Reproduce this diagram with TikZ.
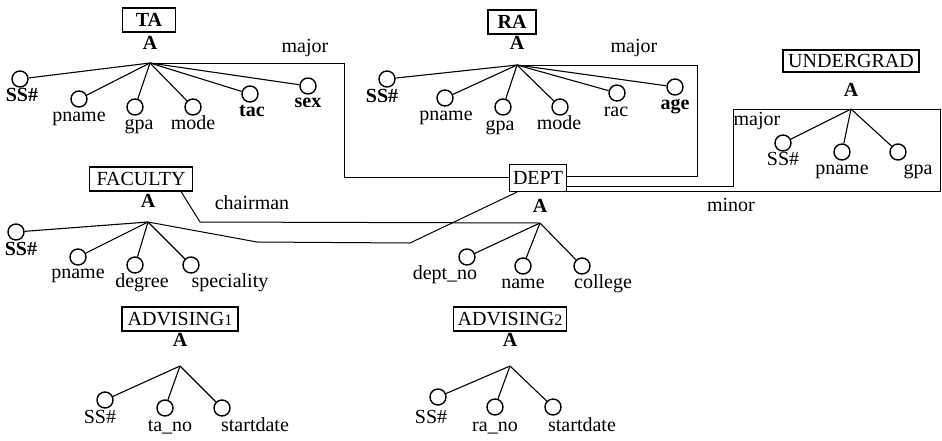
\documentclass[tikz,border=0pt]{standalone}
\usepackage{fontspec}
\setmainfont{Liberation Serif}
\begin{document}
\begin{tikzpicture}[x=1pt,y=-1pt,
  every node/.style={font=\fontsize{20}{22}\selectfont},
  ent/.style={draw, line width=1.1pt, inner sep=1pt, minimum height=24pt},
  att/.style={draw, circle, line width=1.4pt, minimum size=16pt, inner sep=0pt},
  lbl/.style={anchor=mid, inner sep=0pt},
  blbl/.style={anchor=mid, inner sep=0pt, font=\fontsize{20}{22}\selectfont\bfseries},
  apx/.style={anchor=mid, inner sep=0pt, font=\fontsize{20}{22}\selectfont\bfseries},
  edge/.style={line width=1.1pt},
  lnk/.style={line width=1pt}]
\useasboundingbox (0,0) rectangle (942,440);

% ---------------- TA ----------------
\node[ent, minimum width=53pt, font=\fontsize{20}{22}\selectfont\bfseries] (TA) at (149,20) {TA};
\node[apx] (TAa) at (150,47) {A};
\coordinate (TAp) at (150,63);
\node[att] (TA1) at (20,79) {};   \node[blbl] (TAl1) at (22,99) {SS\#};
\node[att] (TA2) at (79,99) {};   \node[lbl] (TAl2) at (79,119) {pname};
\node[att] (TA3) at (135,107) {}; \node[lbl] (TAl3) at (139,127) {gpa};
\node[att] (TA4) at (193,107) {}; \node[lbl] (TAl4) at (193,127) {mode};
\node[att] (TA5) at (250,94) {};  \node[blbl] (TAl5) at (252,114) {tac};
\node[att] (TA6) at (308,86) {};  \node[blbl] (TAl6) at (308,105) {sex};
\foreach \i in {1,...,6} \draw[edge] (TAp) -- (TA\i);
\node[lbl] (TAmaj) at (305,50) {major};

% ---------------- RA ----------------
\node[ent, minimum width=48pt, font=\fontsize{20}{22}\selectfont\bfseries] (RA) at (512,22) {RA};
\node[apx] (RAa) at (517,47) {A};
\coordinate (RAp) at (517,65);
\node[att] (RA1) at (387,79) {};  \node[blbl] (RAl1) at (382,100) {SS\#};
\node[att] (RA2) at (445,98) {};  \node[lbl] (RAl2) at (446,118) {pname};
\node[att] (RA3) at (503,107) {}; \node[lbl] (RAl3) at (500,128) {gpa};
\node[att] (RA4) at (560,107) {}; \node[lbl] (RAl4) at (559,127) {mode};
\node[att] (RA5) at (617,93) {};  \node[lbl] (RAl5) at (616,114) {rac};
\node[att] (RA6) at (675,87) {};  \node[blbl] (RAl6) at (675,107) {age};
\foreach \i in {1,...,6} \draw[edge] (RAp) -- (RA\i);
\node[lbl] (RAmaj) at (634,50) {major};

% ---------------- DEPT ----------------
\node[ent, minimum width=57pt, minimum height=27pt] (DEPT) at (538,178) {DEPT};
\node[apx] (DEa) at (540,210) {A};
\coordinate (DEp) at (540,223);
\node[att] (DE1) at (467,257) {}; \node[lbl] (DEl1) at (445,277) {dept\_no};
\node[att] (DE2) at (523,266) {}; \node[lbl] (DEl2) at (523,286) {name};
\node[att] (DE3) at (582,266) {}; \node[lbl] (DEl3) at (603,286) {college};
\foreach \i in {1,...,3} \draw[edge] (DEp) -- (DE\i);

% ---------------- UNDERGRAD ----------------
\node[ent, minimum width=136pt, minimum height=22pt] (UG) at (851,61) {UNDERGRAD};
\node[apx] (UGa) at (851,94) {A};
\coordinate (UGp) at (851,109);
\node[att] (UG1) at (783,143) {}; \node[lbl] (UGl1) at (783,163) {SS\#};
\node[att] (UG2) at (842,152) {}; \node[lbl] (UGl2) at (842,172) {pname};
\node[att] (UG3) at (898,152) {}; \node[lbl] (UGl3) at (918,172) {gpa};
\foreach \i in {1,...,3} \draw[edge] (UGp) -- (UG\i);
\node[lbl] (UGmaj) at (757,123) {major};
\node[lbl] (UGmin) at (731,209) {minor};

% ---------------- FACULTY ----------------
\node[ent, minimum width=103pt, minimum height=24pt] (FA) at (141,179) {FACULTY};
\node[apx] (FAa) at (148,205) {A};
\coordinate (FAp) at (148,222);
\node[att] (FA1) at (16,232) {};  \node[blbl] (FAl1) at (21,253) {SS\#};
\node[att] (FA2) at (78,257) {};  \node[lbl] (FAl2) at (78,276) {pname};
\node[att] (FA3) at (135,265) {}; \node[lbl] (FAl3) at (142,285) {degree};
\node[att] (FA4) at (191,265) {}; \node[lbl] (FAl4) at (230,285) {speciality};
\foreach \i in {1,...,4} \draw[edge] (FAp) -- (FA\i);
\node[lbl] (FAch) at (252,207) {chairman};

% ---------------- ADVISING1 ----------------
\node[ent, minimum width=116pt] (AD1) at (180,319) {ADVISING{\fontsize{16}{18}\selectfont 1}};
\node[apx] (AD1a) at (180,344) {A};
\coordinate (AD1p) at (180,366);
\node[att] (AD11) at (105,400) {}; \node[lbl] (AD1l1) at (100,421) {SS\#};
\node[att] (AD12) at (165,408) {}; \node[lbl] (AD1l2) at (170,429) {ta\_no};
\node[att] (AD13) at (222,408) {}; \node[lbl] (AD1l3) at (255,429) {startdate};
\foreach \i in {1,...,3} \draw[edge] (AD1p) -- (AD1\i);

% ---------------- ADVISING2 ----------------
\node[ent, minimum width=113pt] (AD2) at (510,319) {ADVISING{\fontsize{16}{18}\selectfont 2}};
\node[apx] (AD2a) at (510,344) {A};
\coordinate (AD2p) at (510,366);
\node[att] (AD21) at (438,397) {}; \node[lbl] (AD2l1) at (431,421) {SS\#};
\node[att] (AD22) at (495,407) {}; \node[lbl] (AD2l2) at (495,429) {ra\_no};
\node[att] (AD23) at (553,407) {}; \node[lbl] (AD2l3) at (582,429) {startdate};
\foreach \i in {1,...,3} \draw[edge] (AD2p) -- (AD2\i);

% ---------------- reference links ----------------
% TA major -> DEPT
\coordinate (c1) at (344,63);
\coordinate (c2) at (344,177);
\draw[lnk] (TAp) -- (c1) -- (c2) -- (c2 -| DEPT.west);
% RA major -> DEPT
\coordinate (c3) at (697,65);
\coordinate (c4) at (697,176);
\draw[lnk] (RAp) -- (c3) -- (c4) -- (c4 -| DEPT.east);
% UNDERGRAD major -> DEPT
\coordinate (c5) at (733,109);
\coordinate (c6) at (733,186);
\draw[lnk] (UGp) -- (c5) -- (c6) -- (c6 -| DEPT.east);
% UNDERGRAD minor -> DEPT
\coordinate (c7) at (940,109);
\coordinate (c8) at (940,191);
\draw[lnk] (UGp) -- (c7) -- (c8) -- (c8 -| DEPT.east);
% FACULTY chairman -> DEPT
\coordinate (c9) at (200,222);
\path (FA.south east) ++(-12,0) coordinate (c10);
\draw[lnk] (c10) -- (c9) -- (DEp);
% FACULTY -> DEPT (dept)
\coordinate (c11) at (257,242);
\coordinate (c12) at (410,243);
\draw[lnk] (FAp) -- (c11) -- (c12) -- ([xshift=-21pt]DEPT.south);
\end{tikzpicture}
\end{document}
